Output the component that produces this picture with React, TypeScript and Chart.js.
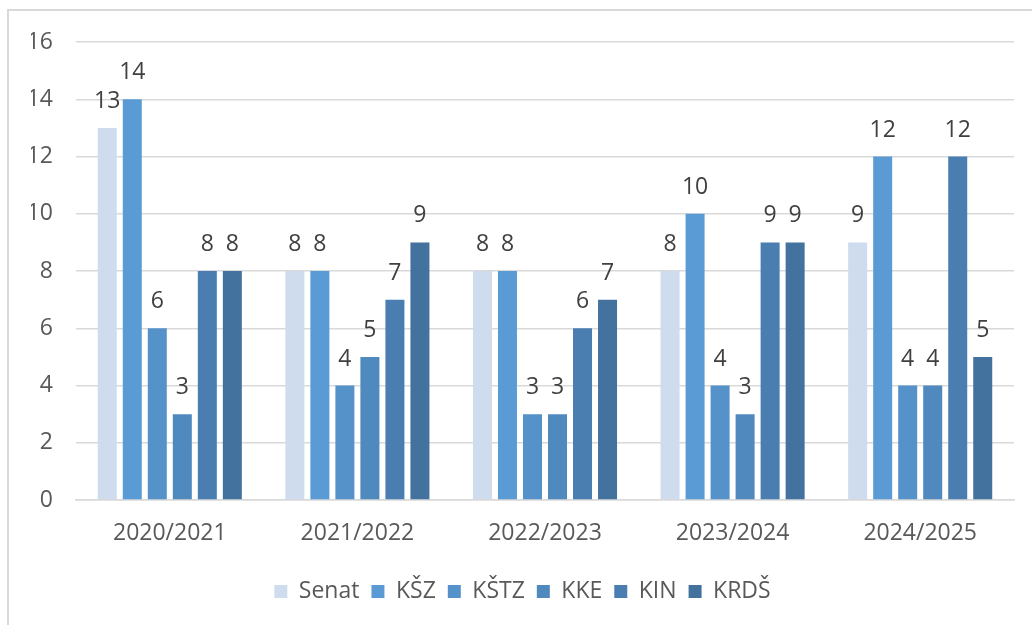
import React, { useEffect, useRef } from "react";
import { Chart, registerables } from "chart.js";

Chart.register(...registerables);

const categories = ["2020/2021", "2021/2022", "2022/2023", "2023/2024", "2024/2025"];
const seriesNames = ["Senat", "KŠZ", "KŠTZ", "KKE", "KIN", "KRDŠ"];
const senatValues = [13, 8, 8, 8, 9];
const kszValues = [14, 8, 8, 10, 12];
const kstzValues = [6, 4, 3, 4, 4];
const kkeValues = [3, 5, 3, 3, 4];
const kinValues = [8, 7, 6, 9, 12];
const krdsValues = [8, 9, 7, 9, 5];
const seriesColors = ["#CFDCEE", "#5B9BD5", "#5592CA", "#4F89BD", "#4A7EB1", "#43729F"];
const yMin = 0;
const yMax = 16;
const yStep = 2;

const FONT = "'Open Sans', 'Noto Sans', sans-serif";
const FONT_SIZE = 23;

const valueLabels = {
  id: "valueLabels",
  afterDatasetsDraw(chart: any) {
    const ctx = chart.ctx;
    ctx.save();
    ctx.font = `${FONT_SIZE}px ${FONT}`;
    ctx.fillStyle = "#404040";
    ctx.textAlign = "center";
    ctx.textBaseline = "alphabetic";
    chart.data.datasets.forEach((ds: any, i: number) => {
      const meta = chart.getDatasetMeta(i);
      if (meta.hidden) return;
      meta.data.forEach((bar: any, j: number) => {
        ctx.fillText(String(ds.data[j]), bar.x, bar.y - 20);
      });
    });
    ctx.restore();
  },
};

export default function App() {
  const ref = useRef<HTMLCanvasElement | null>(null);
  useEffect(() => {
    if (!ref.current) return;
    const allValues = [senatValues, kszValues, kstzValues, kkeValues, kinValues, krdsValues];
    const chart = new Chart(ref.current, {
      type: "bar",
      data: {
        labels: categories,
        datasets: seriesNames.map((name, i) => ({
          label: name,
          data: allValues[i],
          backgroundColor: seriesColors[i],
          borderWidth: 0,
          categoryPercentage: 0.8,
          barPercentage: 0.76,
        })),
      },
      options: {
        responsive: false,
        animation: false,
        layout: { padding: { top: 31, right: 21, left: 22, bottom: 12 } },
        plugins: {
          legend: {
            position: "bottom",
            labels: {
              boxWidth: 13,
              boxHeight: 13,
              padding: 12,
              color: "#595959",
              font: { family: FONT, size: FONT_SIZE },
            },
          },
          tooltip: { enabled: false },
        },
        scales: {
          x: {
            grid: { display: false, drawTicks: false },
            border: { display: true, color: "#D9D9D9", width: 1.5 },
            ticks: { color: "#595959", font: { family: FONT, size: FONT_SIZE }, padding: 20, maxRotation: 0 },
            afterFit(scale: any) {
              scale.height = 68;
            },
          },
          y: {
            min: yMin,
            max: yMax,
            ticks: { stepSize: yStep, color: "#595959", font: { family: FONT, size: FONT_SIZE }, padding: 23 },
            grid: { color: "#D9D9D9", lineWidth: 1.5, drawTicks: false },
            border: { display: false },
            afterFit(scale: any) {
              scale.width = 45;
              scale.paddingTop = 0;
              scale.paddingBottom = 0;
            },
          },
        },
      },
      plugins: [valueLabels],
    });
    return () => chart.destroy();
  }, []);

  return (
    <div style={{ position: "fixed", inset: 0, overflow: "hidden", background: "#fff" }}>
      <div
        style={{
          position: "absolute",
          left: 7,
          top: 9,
          width: 1032,
          height: 640,
          border: "2px solid #D9D9D9",
          boxSizing: "border-box",
        }}
      >
        <canvas ref={ref} width={1026} height={614} style={{ position: "absolute", left: 0, top: 0 }} />
      </div>
    </div>
  );
}
